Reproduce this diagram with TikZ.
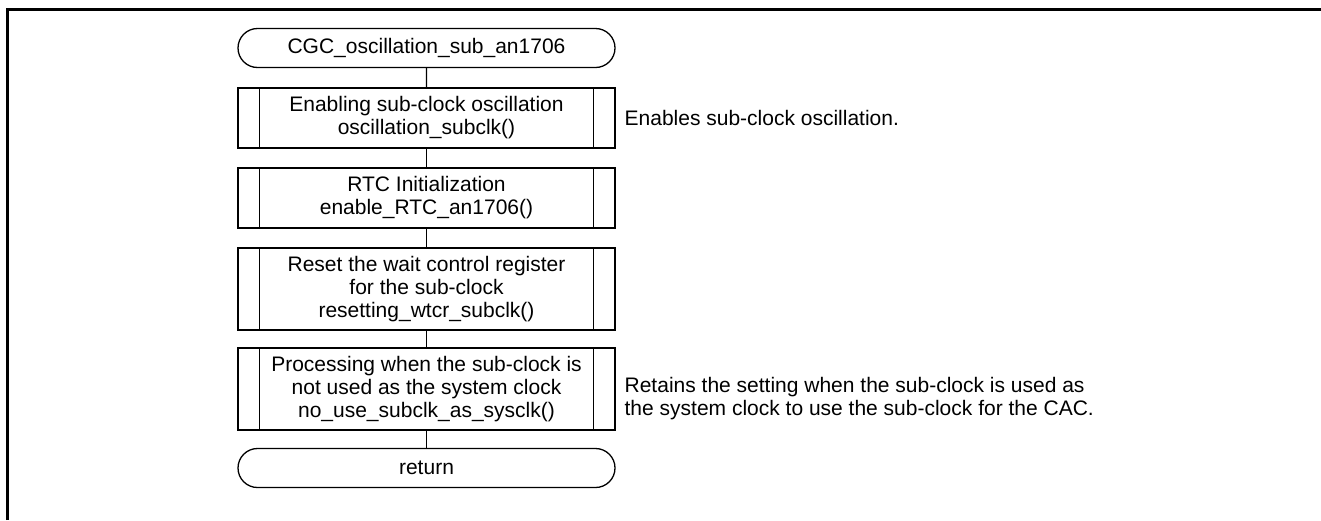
\documentclass[tikz,border=0pt]{standalone}
\usepackage{fontspec}
\setmainfont{Liberation Sans}
\usetikzlibrary{shapes.misc}
\begin{document}
\begin{tikzpicture}[x=1pt,y=-1pt,
  line width=1.3pt,
  term/.style={draw, rounded rectangle, minimum width=377pt, minimum height=39pt,
    inner sep=0pt, font=\fontsize{21}{23}\selectfont},
  subbox/.style={draw, rectangle, minimum width=377pt, inner sep=0pt,
    align=center, font=\fontsize{21}{23}\selectfont},
  note/.style={anchor=north west, inner sep=0pt, align=left,
    font=\fontsize{21}{23}\selectfont}]
  \useasboundingbox (0,0) rectangle (1321,520);
  % page frame (top and left edges only)
  \draw[line width=3pt] (7,520) -- (7,9) -- (1321,9);

  \node[term] (start) at (426.5,48) {CGC\_oscillation\_sub\_an1706};
  \node[subbox, minimum height=60pt] (b1) at (426.5,118)
    {Enabling sub-clock oscillation\\oscillation\_subclk()};
  \node[subbox, minimum height=60pt] (b2) at (426.5,198)
    {RTC Initialization\\enable\_RTC\_an1706()};
  \node[subbox, minimum height=82pt] (b3) at (426.5,289)
    {Reset the wait control register\\for the sub-clock\\resetting\_wtcr\_subclk()};
  \node[subbox, minimum height=82pt] (b4) at (426.5,389)
    {Processing when the sub-clock is\\not used as the system clock\\no\_use\_subclk\_as\_sysclk()};
  \node[term] (ret) at (426.5,468) {return};

  % inner bars of the predefined-process boxes
  \foreach \b in {b1,b2,b3,b4}{
    \draw ([xshift=22pt]\b.north west) -- ([xshift=22pt]\b.south west);
    \draw ([xshift=-22pt]\b.north east) -- ([xshift=-22pt]\b.south east);
  }

  \draw (start) -- (b1);
  \draw (b1) -- (b2);
  \draw (b2) -- (b3);
  \draw (b3) -- (b4);
  \draw (b4) -- (ret);

  \node[note, anchor=west] (n1) at (624,118) {Enables sub-clock oscillation.};
  \node[note, anchor=west] (n2) at (624,399)
    {Retains the setting when the sub-clock is used as\\the system clock to use the sub-clock for the CAC.};
\end{tikzpicture}
\end{document}
